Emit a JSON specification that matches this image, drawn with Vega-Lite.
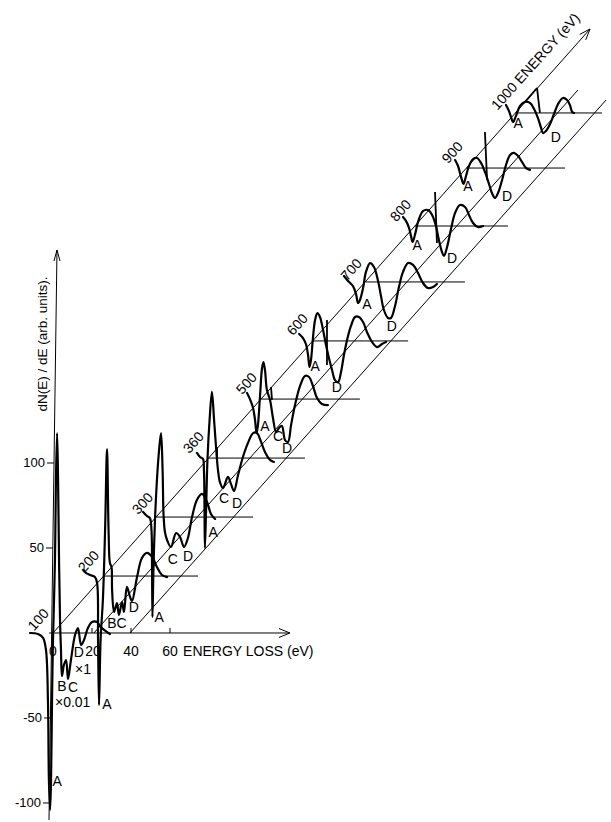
{
  "$schema": "https://vega.github.io/schema/vega-lite/v6.json",
  "width": 611,
  "height": 822,
  "padding": 0,
  "autosize": {"type": "fit", "contains": "padding"},
  "background": "white",
  "config": {"view": {"stroke": null}, "text": {"font": "Liberation Sans", "color": "black"}},
  "datasets": {
    "segments": [
      {"kind": "axis", "x": -2.05, "y": -110, "x2": 2.05, "y2": 225.3},
      {"kind": "axis", "x": -2, "y": 0, "x2": 121.5, "y2": 0},
      {"kind": "axis", "x": 0, "y": 0, "x2": 275.4, "y2": 355.3},
      {"kind": "arrow", "x": 0.5, "y": 218.8, "x2": 2.05, "y2": 225.3},
      {"kind": "arrow", "x": 3.6, "y": 218.8, "x2": 2.05, "y2": 225.3},
      {"kind": "arrow", "x": 115.9, "y": 2.6, "x2": 121.5, "y2": 0},
      {"kind": "arrow", "x": 115.9, "y": -2.6, "x2": 121.5, "y2": 0},
      {"kind": "arrow", "x": 273.2, "y": 348.9, "x2": 275.4, "y2": 355.3},
      {"kind": "arrow", "x": 270.1, "y": 352.1, "x2": 275.4, "y2": 355.3},
      {"kind": "diagonal", "x": 21, "y": 0, "x2": 269.2, "y2": 319.4},
      {"kind": "diagonal", "x": 39.5, "y": 0, "x2": 283.6, "y2": 313.5},
      {"kind": "baseline", "x": 26.0, "y": 33.5, "x2": 74.4, "y2": 33.5},
      {"kind": "baseline", "x": 52.9, "y": 68.2, "x2": 102.6, "y2": 68.2},
      {"kind": "baseline", "x": 79.8, "y": 102.9, "x2": 129.2, "y2": 102.9},
      {"kind": "baseline", "x": 106.7, "y": 137.6, "x2": 157.4, "y2": 137.6},
      {"kind": "baseline", "x": 133.2, "y": 171.8, "x2": 182.1, "y2": 171.8},
      {"kind": "baseline", "x": 160.1, "y": 206.5, "x2": 211.3, "y2": 206.5},
      {"kind": "baseline", "x": 185.6, "y": 239.4, "x2": 233.3, "y2": 239.4},
      {"kind": "baseline", "x": 212.0, "y": 273.5, "x2": 262.6, "y2": 273.5},
      {"kind": "baseline", "x": 237.1, "y": 305.9, "x2": 281.5, "y2": 305.9},
      {"kind": "tick", "x": 20, "y": 0, "x2": 20, "y2": 3},
      {"kind": "tick", "x": 40, "y": 0, "x2": 40, "y2": 3},
      {"kind": "tick", "x": 60, "y": 0, "x2": 60, "y2": 3},
      {"kind": "tick", "x": -3.1, "y": 100, "x2": 0.5, "y2": 100},
      {"kind": "tick", "x": -3.6, "y": 50, "x2": 0, "y2": 50},
      {"kind": "tick", "x": -4.6, "y": -50, "x2": -1.3, "y2": -50},
      {"kind": "tick", "x": -5.1, "y": -100, "x2": -2.1, "y2": -100},
      {"kind": "marker", "x": 84.1, "y": 109.4, "x2": 84.1, "y2": 103.5},
      {"kind": "marker", "x": 111.8, "y": 144.7, "x2": 112.3, "y2": 137.1},
      {"kind": "marker", "x": 140.5, "y": 184.1, "x2": 140.5, "y2": 157.6},
      {"kind": "marker", "x": 195.9, "y": 259.4, "x2": 196.9, "y2": 229.4},
      {"kind": "marker", "x": 221.5, "y": 294.7, "x2": 222.6, "y2": 266.5},
      {"kind": "marker", "x": 242.1, "y": 312.4, "x2": 248.2, "y2": 320.6},
      {"kind": "marker", "x": 248.2, "y": 320.6, "x2": 249.7, "y2": 305.9}
    ],
    "spectra": [
      {"E": 100, "o": 1, "x": -11.8, "y": 0}, {"E": 100, "o": 2, "x": -7.7, "y": -0.6}, {"E": 100, "o": 3, "x": -5.1, "y": -2.9}, {"E": 100, "o": 4, "x": -3.6, "y": -10}, {"E": 100, "o": 5, "x": -2.6, "y": -39.4}, {"E": 100, "o": 6, "x": -2.1, "y": -86.5}, {"E": 100, "o": 7, "x": -1.5, "y": -104.1}, {"E": 100, "o": 8, "x": -1.0, "y": -86.5}, {"E": 100, "o": 9, "x": -0.5, "y": -39.4}, {"E": 100, "o": 10, "x": 0, "y": -4.1}, {"E": 100, "o": 11, "x": 1.0, "y": 42.9}, {"E": 100, "o": 12, "x": 1.5, "y": 90}, {"E": 100, "o": 13, "x": 2.1, "y": 117.6}, {"E": 100, "o": 14, "x": 2.6, "y": 90}, {"E": 100, "o": 15, "x": 3.1, "y": 42.9}, {"E": 100, "o": 16, "x": 3.6, "y": 7.6}, {"E": 100, "o": 17, "x": 4.1, "y": -10}, {"E": 100, "o": 18, "x": 4.6, "y": -25.3}, {"E": 100, "o": 19, "x": 5.6, "y": -18.8}, {"E": 100, "o": 20, "x": 6.7, "y": -15.9}, {"E": 100, "o": 21, "x": 7.7, "y": -27.1}, {"E": 100, "o": 22, "x": 9.2, "y": -15.9}, {"E": 100, "o": 23, "x": 11.3, "y": -1.2}, {"E": 100, "o": 24, "x": 12.8, "y": 2.9}, {"E": 100, "o": 25, "x": 14.4, "y": -7.1}, {"E": 100, "o": 26, "x": 15.9, "y": -4.1}, {"E": 100, "o": 27, "x": 17.9, "y": 2.9}, {"E": 100, "o": 28, "x": 20.0, "y": 6.5}, {"E": 100, "o": 29, "x": 22.6, "y": 6.5}, {"E": 100, "o": 30, "x": 24.1, "y": 4.1}, {"E": 100, "o": 31, "x": 26.2, "y": 1.8}, {"E": 100, "o": 32, "x": 29.2, "y": -0.6},
      {"E": 200, "o": 1, "x": 15.4, "y": 37.1}, {"E": 200, "o": 2, "x": 16.9, "y": 35.3}, {"E": 200, "o": 3, "x": 19.0, "y": 34.1}, {"E": 200, "o": 4, "x": 21.5, "y": 32.9}, {"E": 200, "o": 5, "x": 22.6, "y": 29.4}, {"E": 200, "o": 6, "x": 23.1, "y": -4.1}, {"E": 200, "o": 7, "x": 23.6, "y": -42.4}, {"E": 200, "o": 8, "x": 24.4, "y": -4.1}, {"E": 200, "o": 9, "x": 25.6, "y": 20}, {"E": 200, "o": 10, "x": 26.7, "y": 60}, {"E": 200, "o": 11, "x": 27.7, "y": 108.2}, {"E": 200, "o": 12, "x": 28.5, "y": 60}, {"E": 200, "o": 13, "x": 29.2, "y": 41.2}, {"E": 200, "o": 14, "x": 30.0, "y": 38.8}, {"E": 200, "o": 15, "x": 30.3, "y": 25.3}, {"E": 200, "o": 16, "x": 31.3, "y": 12.4}, {"E": 200, "o": 17, "x": 32.8, "y": 17.6}, {"E": 200, "o": 18, "x": 33.8, "y": 10.6}, {"E": 200, "o": 19, "x": 35.4, "y": 18.2}, {"E": 200, "o": 20, "x": 36.4, "y": 12.4}, {"E": 200, "o": 21, "x": 37.9, "y": 27.1}, {"E": 200, "o": 22, "x": 39.5, "y": 21.2}, {"E": 200, "o": 23, "x": 40.5, "y": 18.8}, {"E": 200, "o": 24, "x": 43.1, "y": 32.9}, {"E": 200, "o": 25, "x": 45.6, "y": 44.1}, {"E": 200, "o": 26, "x": 48.2, "y": 47.1}, {"E": 200, "o": 27, "x": 50.8, "y": 44.7}, {"E": 200, "o": 28, "x": 53.3, "y": 38.8}, {"E": 200, "o": 29, "x": 55.9, "y": 34.1}, {"E": 200, "o": 30, "x": 58.5, "y": 32.9},
      {"E": 300, "o": 1, "x": 46.2, "y": 71.2}, {"E": 300, "o": 2, "x": 48.2, "y": 68.8}, {"E": 300, "o": 3, "x": 49.7, "y": 67.6}, {"E": 300, "o": 4, "x": 50.5, "y": 60.6}, {"E": 300, "o": 5, "x": 50.8, "y": 37.1}, {"E": 300, "o": 6, "x": 51.0, "y": 9.4}, {"E": 300, "o": 7, "x": 51.5, "y": 37.1}, {"E": 300, "o": 8, "x": 52.3, "y": 66.5}, {"E": 300, "o": 9, "x": 53.3, "y": 90}, {"E": 300, "o": 10, "x": 54.4, "y": 107.6}, {"E": 300, "o": 11, "x": 55.4, "y": 117.6}, {"E": 300, "o": 12, "x": 56.2, "y": 95.9}, {"E": 300, "o": 13, "x": 56.7, "y": 69.4}, {"E": 300, "o": 14, "x": 57.4, "y": 59.4}, {"E": 300, "o": 15, "x": 58.5, "y": 54.7}, {"E": 300, "o": 16, "x": 60.5, "y": 50.6}, {"E": 300, "o": 17, "x": 63.1, "y": 58.8}, {"E": 300, "o": 18, "x": 65.1, "y": 56.5}, {"E": 300, "o": 19, "x": 67.2, "y": 50.6}, {"E": 300, "o": 20, "x": 69.2, "y": 55.9}, {"E": 300, "o": 21, "x": 71.3, "y": 68.2}, {"E": 300, "o": 22, "x": 73.8, "y": 78.2}, {"E": 300, "o": 23, "x": 76.4, "y": 81.8}, {"E": 300, "o": 24, "x": 79.0, "y": 77.1}, {"E": 300, "o": 25, "x": 81.0, "y": 70}, {"E": 300, "o": 26, "x": 83.1, "y": 67.1},
      {"E": 360, "o": 1, "x": 73.8, "y": 105.9}, {"E": 360, "o": 2, "x": 75.4, "y": 103.5}, {"E": 360, "o": 3, "x": 76.9, "y": 102.4}, {"E": 360, "o": 4, "x": 77.4, "y": 95.9}, {"E": 360, "o": 5, "x": 77.7, "y": 72.4}, {"E": 360, "o": 6, "x": 77.9, "y": 50}, {"E": 360, "o": 7, "x": 78.5, "y": 72.4}, {"E": 360, "o": 8, "x": 79.2, "y": 101.8}, {"E": 360, "o": 9, "x": 80.3, "y": 125.3}, {"E": 360, "o": 10, "x": 81.5, "y": 141.8}, {"E": 360, "o": 11, "x": 82.6, "y": 125.3}, {"E": 360, "o": 12, "x": 83.6, "y": 109.4}, {"E": 360, "o": 13, "x": 84.6, "y": 95.9}, {"E": 360, "o": 14, "x": 85.6, "y": 88.8}, {"E": 360, "o": 15, "x": 87.2, "y": 85.3}, {"E": 360, "o": 16, "x": 89.7, "y": 91.8}, {"E": 360, "o": 17, "x": 91.3, "y": 87.6}, {"E": 360, "o": 18, "x": 92.8, "y": 83.5}, {"E": 360, "o": 19, "x": 94.9, "y": 92.9}, {"E": 360, "o": 20, "x": 97.4, "y": 103.5}, {"E": 360, "o": 21, "x": 100.0, "y": 111.8}, {"E": 360, "o": 22, "x": 102.6, "y": 117.6}, {"E": 360, "o": 23, "x": 104.6, "y": 117.6}, {"E": 360, "o": 24, "x": 106.7, "y": 112.4}, {"E": 360, "o": 25, "x": 108.7, "y": 106.5}, {"E": 360, "o": 26, "x": 111.3, "y": 101.8}, {"E": 360, "o": 27, "x": 113.3, "y": 100.6},
      {"E": 500, "o": 1, "x": 99.5, "y": 141.2}, {"E": 500, "o": 2, "x": 101.0, "y": 137.6}, {"E": 500, "o": 3, "x": 102.6, "y": 132.4}, {"E": 500, "o": 4, "x": 103.6, "y": 125.3}, {"E": 500, "o": 5, "x": 104.4, "y": 117.6}, {"E": 500, "o": 6, "x": 105.1, "y": 122.4}, {"E": 500, "o": 7, "x": 106.2, "y": 140}, {"E": 500, "o": 8, "x": 107.2, "y": 155.9}, {"E": 500, "o": 9, "x": 107.9, "y": 159.4}, {"E": 500, "o": 10, "x": 108.7, "y": 154.7}, {"E": 500, "o": 11, "x": 109.7, "y": 142.9}, {"E": 500, "o": 12, "x": 111.3, "y": 137.1}, {"E": 500, "o": 13, "x": 112.8, "y": 126.5}, {"E": 500, "o": 14, "x": 114.4, "y": 118.2}, {"E": 500, "o": 15, "x": 115.9, "y": 120.6}, {"E": 500, "o": 16, "x": 117.4, "y": 121.8}, {"E": 500, "o": 17, "x": 119.0, "y": 113.5}, {"E": 500, "o": 18, "x": 120.5, "y": 112.4}, {"E": 500, "o": 19, "x": 122.1, "y": 122.4}, {"E": 500, "o": 20, "x": 124.1, "y": 134.1}, {"E": 500, "o": 21, "x": 126.7, "y": 145.3}, {"E": 500, "o": 22, "x": 129.2, "y": 151.2}, {"E": 500, "o": 23, "x": 131.3, "y": 150.6}, {"E": 500, "o": 24, "x": 133.3, "y": 145.3}, {"E": 500, "o": 25, "x": 135.4, "y": 138.2}, {"E": 500, "o": 26, "x": 137.9, "y": 134.7}, {"E": 500, "o": 27, "x": 141.0, "y": 134.1},
      {"E": 600, "o": 1, "x": 126.2, "y": 175.9}, {"E": 600, "o": 2, "x": 128.2, "y": 173.5}, {"E": 600, "o": 3, "x": 129.7, "y": 170}, {"E": 600, "o": 4, "x": 130.8, "y": 163.5}, {"E": 600, "o": 5, "x": 131.5, "y": 156.5}, {"E": 600, "o": 6, "x": 132.3, "y": 160.6}, {"E": 600, "o": 7, "x": 133.3, "y": 173.5}, {"E": 600, "o": 8, "x": 134.4, "y": 184.1}, {"E": 600, "o": 9, "x": 135.6, "y": 188.2}, {"E": 600, "o": 10, "x": 136.9, "y": 185.9}, {"E": 600, "o": 11, "x": 138.5, "y": 178.2}, {"E": 600, "o": 12, "x": 140.0, "y": 169.4}, {"E": 600, "o": 13, "x": 141.5, "y": 161.8}, {"E": 600, "o": 14, "x": 143.1, "y": 154.7}, {"E": 600, "o": 15, "x": 144.6, "y": 148.8}, {"E": 600, "o": 16, "x": 146.2, "y": 147.6}, {"E": 600, "o": 17, "x": 147.7, "y": 153.5}, {"E": 600, "o": 18, "x": 149.2, "y": 163.5}, {"E": 600, "o": 19, "x": 150.8, "y": 172.4}, {"E": 600, "o": 20, "x": 152.8, "y": 180.6}, {"E": 600, "o": 21, "x": 154.9, "y": 185.9}, {"E": 600, "o": 22, "x": 156.9, "y": 185.9}, {"E": 600, "o": 23, "x": 159.0, "y": 182.9}, {"E": 600, "o": 24, "x": 161.0, "y": 177.1}, {"E": 600, "o": 25, "x": 163.6, "y": 171.2}, {"E": 600, "o": 26, "x": 166.2, "y": 168.2}, {"E": 600, "o": 27, "x": 168.7, "y": 170}, {"E": 600, "o": 28, "x": 170.8, "y": 171.2},
      {"E": 700, "o": 1, "x": 149.2, "y": 210}, {"E": 700, "o": 2, "x": 151.3, "y": 207.1}, {"E": 700, "o": 3, "x": 153.8, "y": 204.1}, {"E": 700, "o": 4, "x": 155.4, "y": 199.4}, {"E": 700, "o": 5, "x": 156.4, "y": 194.1}, {"E": 700, "o": 6, "x": 157.4, "y": 195.9}, {"E": 700, "o": 7, "x": 159.0, "y": 202.9}, {"E": 700, "o": 8, "x": 160.5, "y": 212.4}, {"E": 700, "o": 9, "x": 162.6, "y": 217.6}, {"E": 700, "o": 10, "x": 164.6, "y": 215.3}, {"E": 700, "o": 11, "x": 166.7, "y": 207.1}, {"E": 700, "o": 12, "x": 168.2, "y": 198.2}, {"E": 700, "o": 13, "x": 169.7, "y": 190}, {"E": 700, "o": 14, "x": 171.8, "y": 185.3}, {"E": 700, "o": 15, "x": 173.3, "y": 185.3}, {"E": 700, "o": 16, "x": 175.4, "y": 192.4}, {"E": 700, "o": 17, "x": 177.4, "y": 203.5}, {"E": 700, "o": 18, "x": 179.5, "y": 212.4}, {"E": 700, "o": 19, "x": 182.1, "y": 217.6}, {"E": 700, "o": 20, "x": 184.6, "y": 216.5}, {"E": 700, "o": 21, "x": 187.2, "y": 211.8}, {"E": 700, "o": 22, "x": 189.7, "y": 205.9}, {"E": 700, "o": 23, "x": 192.3, "y": 202.9}, {"E": 700, "o": 24, "x": 194.9, "y": 203.5}, {"E": 700, "o": 25, "x": 196.9, "y": 205.3},
      {"E": 800, "o": 1, "x": 179.5, "y": 244.7}, {"E": 800, "o": 2, "x": 181.0, "y": 242.4}, {"E": 800, "o": 3, "x": 182.6, "y": 238.2}, {"E": 800, "o": 4, "x": 183.6, "y": 233.5}, {"E": 800, "o": 5, "x": 184.4, "y": 230}, {"E": 800, "o": 6, "x": 185.6, "y": 234.1}, {"E": 800, "o": 7, "x": 187.2, "y": 241.8}, {"E": 800, "o": 8, "x": 189.7, "y": 248.2}, {"E": 800, "o": 9, "x": 192.3, "y": 248.8}, {"E": 800, "o": 10, "x": 194.4, "y": 245.9}, {"E": 800, "o": 11, "x": 196.4, "y": 239.4}, {"E": 800, "o": 12, "x": 197.9, "y": 231.2}, {"E": 800, "o": 13, "x": 199.5, "y": 224.1}, {"E": 800, "o": 14, "x": 200.5, "y": 221.8}, {"E": 800, "o": 15, "x": 202.1, "y": 227.1}, {"E": 800, "o": 16, "x": 204.1, "y": 237.6}, {"E": 800, "o": 17, "x": 206.2, "y": 247.1}, {"E": 800, "o": 18, "x": 208.7, "y": 251.8}, {"E": 800, "o": 19, "x": 211.3, "y": 250.6}, {"E": 800, "o": 20, "x": 213.3, "y": 245.9}, {"E": 800, "o": 21, "x": 215.4, "y": 241.2}, {"E": 800, "o": 22, "x": 217.9, "y": 238.8}, {"E": 800, "o": 23, "x": 220.5, "y": 239.4},
      {"E": 900, "o": 1, "x": 206.2, "y": 278.2}, {"E": 900, "o": 2, "x": 207.7, "y": 274.7}, {"E": 900, "o": 3, "x": 208.7, "y": 270.6}, {"E": 900, "o": 4, "x": 209.7, "y": 266.5}, {"E": 900, "o": 5, "x": 210.5, "y": 264.1}, {"E": 900, "o": 6, "x": 211.8, "y": 268.8}, {"E": 900, "o": 7, "x": 213.3, "y": 274.7}, {"E": 900, "o": 8, "x": 215.4, "y": 278.8}, {"E": 900, "o": 9, "x": 217.4, "y": 279.4}, {"E": 900, "o": 10, "x": 219.5, "y": 276.5}, {"E": 900, "o": 11, "x": 221.5, "y": 271.2}, {"E": 900, "o": 12, "x": 223.6, "y": 264.1}, {"E": 900, "o": 13, "x": 225.1, "y": 258.8}, {"E": 900, "o": 14, "x": 226.7, "y": 255.9}, {"E": 900, "o": 15, "x": 228.2, "y": 258.8}, {"E": 900, "o": 16, "x": 230.3, "y": 266.5}, {"E": 900, "o": 17, "x": 232.3, "y": 275.3}, {"E": 900, "o": 18, "x": 234.4, "y": 281.2}, {"E": 900, "o": 19, "x": 236.4, "y": 282.4}, {"E": 900, "o": 20, "x": 238.5, "y": 280.6}, {"E": 900, "o": 21, "x": 240.5, "y": 277.1}, {"E": 900, "o": 22, "x": 242.6, "y": 273.5}, {"E": 900, "o": 23, "x": 244.6, "y": 272.4},
      {"E": 1000, "o": 1, "x": 232.3, "y": 310.6}, {"E": 1000, "o": 2, "x": 233.8, "y": 307.1}, {"E": 1000, "o": 3, "x": 234.9, "y": 303.5}, {"E": 1000, "o": 4, "x": 235.9, "y": 300.6}, {"E": 1000, "o": 5, "x": 237.4, "y": 304.1}, {"E": 1000, "o": 6, "x": 239.5, "y": 310}, {"E": 1000, "o": 7, "x": 242.1, "y": 312.4}, {"E": 1000, "o": 8, "x": 244.6, "y": 311.8}, {"E": 1000, "o": 9, "x": 246.7, "y": 308.2}, {"E": 1000, "o": 10, "x": 248.7, "y": 302.9}, {"E": 1000, "o": 11, "x": 250.3, "y": 297.1}, {"E": 1000, "o": 12, "x": 251.3, "y": 294.1}, {"E": 1000, "o": 13, "x": 252.8, "y": 295.3}, {"E": 1000, "o": 14, "x": 254.9, "y": 299.4}, {"E": 1000, "o": 15, "x": 256.9, "y": 305.3}, {"E": 1000, "o": 16, "x": 259.0, "y": 311.2}, {"E": 1000, "o": 17, "x": 261.5, "y": 314.7}, {"E": 1000, "o": 18, "x": 263.6, "y": 313.5}, {"E": 1000, "o": 19, "x": 265.1, "y": 310.6}, {"E": 1000, "o": 20, "x": 266.2, "y": 306.5}, {"E": 1000, "o": 21, "x": 267.2, "y": 305.9}
    ],
    "labels": [
      {"kind": "energy", "text": "100", "x": -7.2, "y": 7.6},
      {"kind": "energy", "text": "200", "x": 18.5, "y": 41.8},
      {"kind": "energy", "text": "300", "x": 46.2, "y": 75.9},
      {"kind": "energy", "text": "360", "x": 72.3, "y": 111.8},
      {"kind": "energy", "text": "500", "x": 99.5, "y": 146.5},
      {"kind": "energy", "text": "600", "x": 125.6, "y": 181.2},
      {"kind": "energy", "text": "700", "x": 153.3, "y": 213.5},
      {"kind": "energy", "text": "800", "x": 178.5, "y": 248.2},
      {"kind": "energy", "text": "900", "x": 205.1, "y": 282.4},
      {"kind": "energy", "text": "1000 ENERGY (eV)", "x": 247.7, "y": 335.9},
      {"kind": "letter", "text": "B", "x": 4.6, "y": -31.8},
      {"kind": "letter", "text": "C", "x": 10.3, "y": -32.4},
      {"kind": "letter", "text": "D", "x": 13.3, "y": -11.8},
      {"kind": "letter", "text": "A", "x": 2.1, "y": -87.6},
      {"kind": "letter", "text": "BC", "x": 32.8, "y": 5.3},
      {"kind": "letter", "text": "D", "x": 41.5, "y": 14.7},
      {"kind": "letter", "text": "A", "x": 27.7, "y": -42.4},
      {"kind": "letter", "text": "A", "x": 54.4, "y": 8.8},
      {"kind": "letter", "text": "C", "x": 61.5, "y": 42.9},
      {"kind": "letter", "text": "D", "x": 69.2, "y": 44.7},
      {"kind": "letter", "text": "A", "x": 82.1, "y": 58.8},
      {"kind": "letter", "text": "C", "x": 87.7, "y": 78.8},
      {"kind": "letter", "text": "D", "x": 94.4, "y": 75.9},
      {"kind": "letter", "text": "A", "x": 108.7, "y": 121.2},
      {"kind": "letter", "text": "C", "x": 115.4, "y": 115.3},
      {"kind": "letter", "text": "D", "x": 120.0, "y": 108.2},
      {"kind": "letter", "text": "A", "x": 134.4, "y": 156.5},
      {"kind": "letter", "text": "D", "x": 145.6, "y": 144.1},
      {"kind": "letter", "text": "A", "x": 161.0, "y": 192.9},
      {"kind": "letter", "text": "D", "x": 173.8, "y": 180},
      {"kind": "letter", "text": "A", "x": 186.7, "y": 227.6},
      {"kind": "letter", "text": "D", "x": 204.6, "y": 220},
      {"kind": "letter", "text": "A", "x": 212.8, "y": 262.4},
      {"kind": "letter", "text": "D", "x": 232.8, "y": 256.5},
      {"kind": "letter", "text": "A", "x": 238.5, "y": 299.4},
      {"kind": "letter", "text": "D", "x": 257.9, "y": 291.2},
      {"kind": "letter", "text": "0", "x": 0, "y": -11.2},
      {"kind": "letter", "text": "20", "x": 20.5, "y": -11.2},
      {"kind": "letter", "text": "40", "x": 40, "y": -11.2},
      {"kind": "letter", "text": "60", "x": 60, "y": -11.2},
      {"kind": "ytick", "text": "100", "x": -4.1, "y": 100},
      {"kind": "ytick", "text": "50", "x": -4.6, "y": 50},
      {"kind": "ytick", "text": "-50", "x": -5.6, "y": -50},
      {"kind": "ytick", "text": "-100", "x": -6.2, "y": -100},
      {"kind": "ytitle", "text": "dN(E) / dE (arb. units).", "x": -5.1, "y": 170},
      {"kind": "left", "text": "ENERGY LOSS (eV)", "x": 66.7, "y": -11.2},
      {"kind": "left", "text": "×0.01", "x": 1.0, "y": -41.2},
      {"kind": "left", "text": "×1", "x": 11.3, "y": -21.8}
    ]
  },
  "encoding": {
    "x": {"field": "x", "type": "quantitative", "scale": {"domain": [-27.18, 286.15], "nice": false, "zero": false}, "axis": null},
    "y": {"field": "y", "type": "quantitative", "scale": {"domain": [-111.18, 372.35], "nice": false, "zero": false}, "axis": null}
  },
  "layer": [
    {
      "data": {"name": "segments"},
      "transform": [{"filter": "datum.kind != 'marker'"}],
      "mark": {"type": "rule", "color": "black", "strokeWidth": 1},
      "encoding": {"x2": {"field": "x2"}, "y2": {"field": "y2"}}
    },
    {
      "data": {"name": "segments"},
      "transform": [{"filter": "datum.kind == 'marker'"}],
      "mark": {"type": "rule", "color": "black", "strokeWidth": 1.8},
      "encoding": {"x2": {"field": "x2"}, "y2": {"field": "y2"}}
    },
    {
      "data": {"name": "spectra"},
      "mark": {"type": "line", "interpolate": "catmull-rom", "color": "black", "strokeWidth": 2.2, "strokeJoin": "round", "strokeCap": "round"},
      "encoding": {"detail": {"field": "E", "type": "nominal"}, "order": {"field": "o", "type": "quantitative"}}
    },
    {
      "data": {"name": "labels"},
      "transform": [{"filter": "datum.kind == 'energy'"}],
      "mark": {"type": "text", "angle": -48, "fontSize": 14, "align": "center", "baseline": "middle"},
      "encoding": {"text": {"field": "text"}}
    },
    {
      "data": {"name": "labels"},
      "transform": [{"filter": "datum.kind == 'letter'"}],
      "mark": {"type": "text", "fontSize": 14, "align": "center", "baseline": "middle"},
      "encoding": {"text": {"field": "text"}}
    },
    {
      "data": {"name": "labels"},
      "transform": [{"filter": "datum.kind == 'ytick'"}],
      "mark": {"type": "text", "fontSize": 13, "align": "right", "baseline": "middle"},
      "encoding": {"text": {"field": "text"}}
    },
    {
      "data": {"name": "labels"},
      "transform": [{"filter": "datum.kind == 'ytitle'"}],
      "mark": {"type": "text", "angle": -90, "fontSize": 13.5, "align": "center", "baseline": "middle"},
      "encoding": {"text": {"field": "text"}}
    },
    {
      "data": {"name": "labels"},
      "transform": [{"filter": "datum.kind == 'left'"}],
      "mark": {"type": "text", "fontSize": 14, "align": "left", "baseline": "middle"},
      "encoding": {"text": {"field": "text"}}
    }
  ]
}
